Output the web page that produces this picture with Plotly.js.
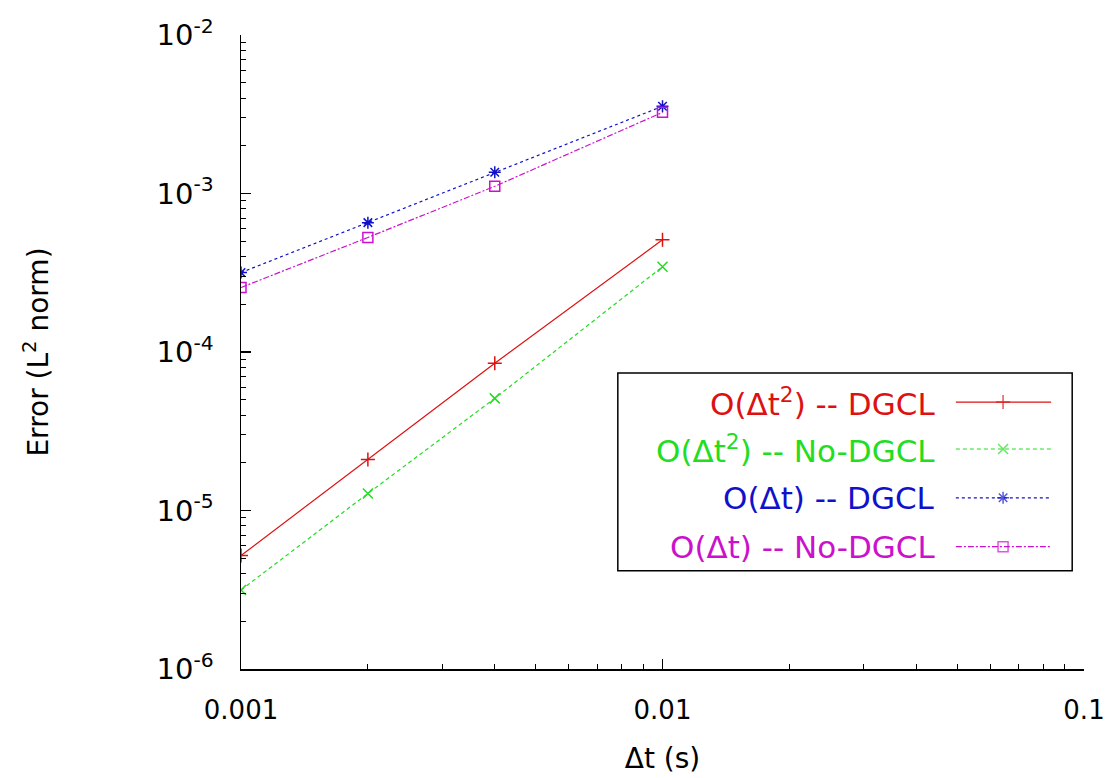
<!DOCTYPE html>
<html>
<head>
<meta charset="utf-8">
<script src="https://cdn.plot.ly/plotly-3.0.1.min.js"></script>
<style>html,body{margin:0;padding:0;background:#fff;}#chart{width:1105px;height:778px;}</style>
</head>
<body>
<div id="chart"></div>
<script>
// ---- data ----
const dt = [0.001, 0.002, 0.004, 0.01];
const errO2DGCL   = [5.2e-6, 2.1e-5, 8.5e-5, 5.1e-4];
const errO2NoDGCL = [3.15e-6, 1.28e-5, 5.1e-5, 3.45e-4];
const errO1DGCL   = [3.17e-4, 6.55e-4, 1.36e-3, 3.55e-3];
const errO1NoDGCL = [2.55e-4, 5.28e-4, 1.11e-3, 3.25e-3];
const seriesNames = ['O(Δt<sup>2</sup>) -- DGCL', 'O(Δt<sup>2</sup>) -- No-DGCL', 'O(Δt) -- DGCL', 'O(Δt) -- No-DGCL'];
const yTickVals = [1e-6, 1e-5, 1e-4, 1e-3, 1e-2];
const yTickText = ['10<sup>-6</sup>', '10<sup>-5</sup>', '10<sup>-4</sup>', '10<sup>-3</sup>', '10<sup>-2</sup>'];
const xTickVals = [0.001, 0.01, 0.1];
const xTickText = ['0.001', '0.01', '0.1'];

// ---- styles ----
const colors = ['#dd1111', '#22dd22', '#1111cc', '#cc11cc'];
const dashes = ['solid', '4px,3px', '3px,3px', '6px,2px,2px,2px'];
const symbols = ['cross-thin-open', 'x-thin-open', 'asterisk-open', 'square-open'];
const values = [errO2DGCL, errO2NoDGCL, errO1DGCL, errO1NoDGCL];
const font = '"DejaVu Sans", "Liberation Sans", Arial, sans-serif';

function minorVals(lo, hi) {
  const out = [];
  for (let e = lo; e < hi; e++) for (let k = 2; k <= 9; k++) out.push(k * Math.pow(10, e));
  return out;
}

const traces = [];
values.forEach((v, i) => {
  traces.push({
    x: dt, y: v, type: 'scatter', mode: 'lines+markers', showlegend: false,
    line: {color: colors[i], width: 1.2, dash: dashes[i]},
    marker: {symbol: symbols[i], size: 10, color: colors[i], line: {color: colors[i], width: 1.5}}
  });
});

// custom legend (text on the left, sample on the right)
const legRowY = [0.421, 0.347, 0.270, 0.193];
const annotations = [];
values.forEach((v, i) => {
  traces.push({
    x: [0.848, 0.904, 0.961], y: [legRowY[i], legRowY[i], legRowY[i]],
    xaxis: 'x2', yaxis: 'y2', type: 'scatter', mode: 'lines+markers', showlegend: false, hoverinfo: 'skip',
    line: {color: colors[i], width: 1.2, dash: dashes[i]},
    marker: {symbol: symbols[i], size: [0, 10, 0], color: colors[i], line: {color: colors[i], width: 1.5}}
  });
  annotations.push({
    xref: 'paper', yref: 'paper', x: 0.826, y: legRowY[i], xanchor: 'right', yanchor: 'middle',
    text: seriesNames[i], showarrow: false, font: {family: font, size: 31, color: colors[i]}
  });
});

const layout = {
  width: 1105, height: 778,
  margin: {l: 241, r: 21, t: 35, b: 109},
  paper_bgcolor: '#fff', plot_bgcolor: '#fff',
  font: {family: font, color: '#000'},
  xaxis: {
    type: 'log', range: [-3, -1], showgrid: false, zeroline: false,
    showline: true, linecolor: '#000', linewidth: 1.5, mirror: false,
    tickmode: 'array', tickvals: xTickVals, ticktext: xTickText,
    ticks: 'inside', ticklen: 10, tickwidth: 1.2, tickcolor: '#000',
    minor: {tickmode: 'array', tickvals: minorVals(-3, -1), ticks: 'inside', ticklen: 5, tickwidth: 1, tickcolor: '#000', showgrid: false},
    tickfont: {family: font, size: 26, color: '#000'},
    ticklabelstandoff: 17,
    ticklabeloverflow: 'allow',
    title: {text: 'Δt (s)', font: {family: font, size: 28, color: '#000'}, standoff: 24}
  },
  yaxis: {
    type: 'log', range: [-6, -2], showgrid: false, zeroline: false,
    showline: true, linecolor: '#000', linewidth: 1.5, mirror: false,
    tickmode: 'array', tickvals: yTickVals, ticktext: yTickText,
    ticks: 'inside', ticklen: 10, tickwidth: 1.2, tickcolor: '#000',
    minor: {tickmode: 'array', tickvals: minorVals(-6, -2), ticks: 'inside', ticklen: 5, tickwidth: 1, tickcolor: '#000', showgrid: false},
    tickfont: {family: font, size: 29, color: '#000'},
    ticklabelstandoff: 20,
    title: {text: 'Error (L<sup>2</sup> norm)', font: {family: font, size: 28, color: '#000'}, standoff: 100}
  },
  xaxis2: {overlaying: 'x', range: [0, 1], visible: false, fixedrange: true},
  yaxis2: {overlaying: 'y', range: [0, 1], visible: false, fixedrange: true},
  shapes: [{
    type: 'rect', xref: 'paper', yref: 'paper', x0: 0.447, x1: 0.986, y0: 0.155, y1: 0.467,
    line: {color: '#000', width: 1.5}, fillcolor: 'rgba(0,0,0,0)', layer: 'above'
  }],
  annotations: annotations
};

Plotly.newPlot('chart', traces, layout, {staticPlot: true, displayModeBar: false});
</script>
</body>
</html>
